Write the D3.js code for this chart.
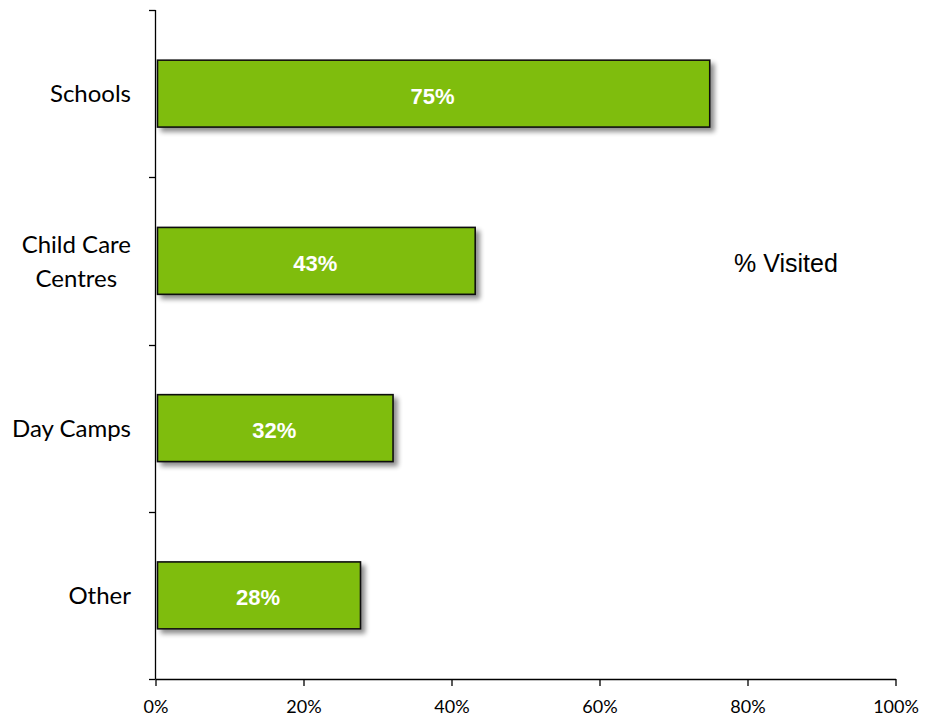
<!DOCTYPE html>
<html><head><meta charset="utf-8">
<script src="https://cdn.jsdelivr.net/npm/d3@7"></script>
<style>body{margin:0;background:#fff}</style>
</head><body>
<svg id="c" width="927" height="719"></svg>
<script>
const categories = ["Schools", "Child Care Centres", "Day Camps", "Other"];
const categoryLines = [["Schools"], ["Child Care", "Centres"], ["Day Camps"], ["Other"]];
const values = [74.9, 43.2, 32.1, 27.7];
const valueLabels = ["75%", "43%", "32%", "28%"];
const xTicks = [0, 20, 40, 60, 80, 100];
const seriesName = "% Visited";

const svg = d3.select("#c");
const defs = svg.append("defs");
const f = defs.append("filter").attr("id","sh").attr("x","-10%").attr("y","-20%").attr("width","130%").attr("height","160%");
f.append("feGaussianBlur").attr("in","SourceAlpha").attr("stdDeviation",2.5).attr("result","b");
f.append("feOffset").attr("in","b").attr("dx",4).attr("dy",4).attr("result","o");
f.append("feComponentTransfer").attr("in","o").attr("result","o2").append("feFuncA").attr("type","linear").attr("slope",0.45);
const m = f.append("feMerge"); m.append("feMergeNode").attr("in","o2"); m.append("feMergeNode").attr("in","SourceGraphic");

const x = d3.scaleLinear().domain([0,100]).range([155.5, 895.5]);
const y = d3.scaleBand().domain(categories).range([10, 679]).paddingInner(0.6).paddingOuter(0.3);

// bars
svg.append("g").selectAll("rect").data(categories).join("rect")
  .attr("x", x(0)+2).attr("y", d=>y(d))
  .attr("width", (d,i)=>x(values[i])-x(0)-2).attr("height", y.bandwidth())
  .attr("fill","#7fbd07").attr("stroke","#111").attr("stroke-width",1.6)
  .attr("filter","url(#sh)");

svg.append("g").selectAll("text").data(categories).join("text")
  .attr("x",(d,i)=>(x(0)+x(values[i]))/2).attr("y", d=>y(d)+y.bandwidth()/2+2)
  .attr("dy","0.36em").attr("text-anchor","middle")
  .attr("font-family","Liberation Sans, Arial, sans-serif").attr("font-weight","bold")
  .attr("font-size",22).attr("fill","#fff").text((d,i)=>valueLabels[i]);

// x axis
const xa = svg.append("g").attr("transform","translate(0,679)")
  .call(d3.axisBottom(x).tickValues(xTicks).tickFormat(d=>d+"%").tickSize(7).tickSizeOuter(0));
xa.select(".domain").attr("stroke","#000").attr("stroke-width",1.3);
xa.selectAll(".tick line").attr("stroke","#000").attr("stroke-width",1.3);
xa.selectAll(".tick text").attr("font-family","Lato, sans-serif").attr("font-size",18).attr("fill","#000").attr("y",21);

// y axis
const step = y.step();
const bounds = categories.map(d=>y(d)-step*0.3).concat([y(categories[3])+y.bandwidth()+step*0.3]);
const ya = svg.append("g");
ya.append("line").attr("x1",155.5).attr("x2",155.5).attr("y1",10).attr("y2",679).attr("stroke","#000").attr("stroke-width",1.3);
ya.selectAll("line.t").data(bounds).join("line").attr("class","t")
  .attr("x1",149).attr("x2",155.5).attr("y1",d=>Math.round(d)+0.5).attr("y2",d=>Math.round(d)+0.5)
  .attr("stroke","#000").attr("stroke-width",1.3);
const lbl = ya.selectAll("text").data(categories).join("text")
  .attr("text-anchor","middle").attr("font-family","Lato, sans-serif").attr("font-size",24).attr("fill","#000");
lbl.each(function(d,i){
  const lines = categoryLines[i];
  const t = d3.select(this);
  lines.forEach((ln,j)=>{
    t.append("tspan").attr("x",0).attr("y",(j-(lines.length-1)/2)*34).attr("dy","0.36em").text(ln);
  });
  let w = 0;
  t.selectAll("tspan").each(function(){ w = Math.max(w, this.getComputedTextLength()); });
  t.attr("transform", `translate(${131 - w/2},${y(d)+y.bandwidth()/2})`);
});

// series label
svg.append("text").attr("x",786).attr("y",263).attr("dy","0.36em").attr("text-anchor","middle")
  .attr("font-family","Liberation Sans, Arial, sans-serif").attr("font-size",25).attr("fill","#000").text(seriesName);
</script>
</body></html>
